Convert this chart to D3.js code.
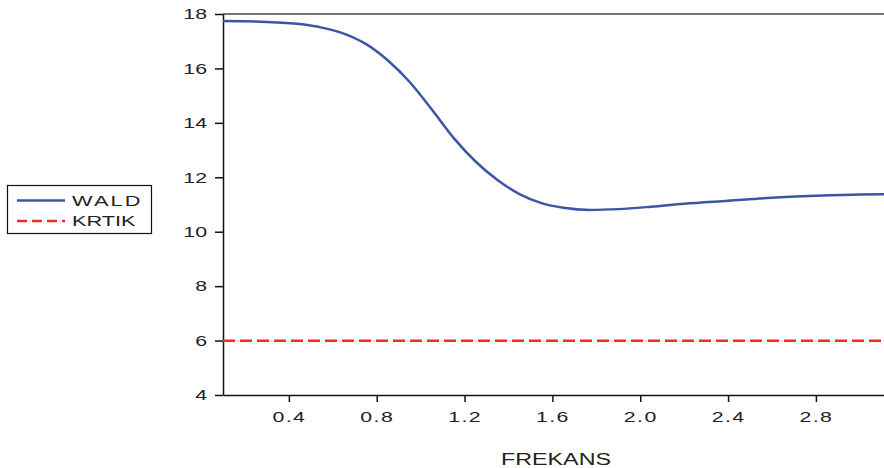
<!DOCTYPE html>
<html>
<head>
<meta charset="utf-8">
<script src="https://cdn.jsdelivr.net/npm/d3@7"></script>
<style>
  body { margin: 0; background: #fff; }
  svg { display: block; font-family: "Liberation Sans", Arial, sans-serif; }
  .axis text { font-size: 15px; fill: #222; }
  .axis path, .axis line { stroke: #111; stroke-width: 1.5; }
</style>
</head>
<body>
<div id="chart"></div>
<script>
    // values
    var freq = [0.10, 0.30, 0.45, 0.55, 0.65, 0.75, 0.85, 0.95, 1.05, 1.15, 1.25, 1.35,
                1.45, 1.55, 1.65, 1.77, 1.90, 2.05, 2.20, 2.40, 2.60, 2.80, 3.00, 3.11];
    var wald = [17.74, 17.71, 17.63, 17.50, 17.28, 16.90, 16.30, 15.50, 14.50, 13.45, 12.58, 11.90,
                11.38, 11.05, 10.88, 10.80, 10.83, 10.92, 11.03, 11.14, 11.25, 11.32, 11.37, 11.38];
    var krtik = 5.99;
    var xTicks = [0.4, 0.8, 1.2, 1.6, 2.0, 2.4, 2.8];
    var yTicks = [4, 6, 8, 10, 12, 14, 16, 18];

    var fullwidth = 884;
    var fullheight = 468;
    var margin = {top: 14, right: 0, bottom: 73, left: 223};

    var width = fullwidth - margin.left - margin.right;
    var height = fullheight - margin.top - margin.bottom;

    var sx = 1.42; // the text in the picture is stretched sideways

    var svg = d3.select("#chart")
                .append("svg")
                .attr("width", fullwidth)
                .attr("height", fullheight);

    var g = svg.append("g")
               .attr("transform", "translate(" + margin.left + "," + margin.top + ")");

    var xScale = d3.scaleLinear()
                   .domain([0.1, 3.11])
                   .range([0, width]);

    var yScale = d3.scaleLinear()
                   .domain([4, 18])
                   .range([height, 0]);

    var xAxis = d3.axisBottom(xScale)
                  .tickValues(xTicks)
                  .tickSizeInner(7)
                  .tickSizeOuter(0)
                  .tickPadding(9)
                  .tickFormat(d3.format(".1f"));

    var yAxis = d3.axisLeft(yScale)
                  .tickValues(yTicks)
                  .tickSizeInner(8)
                  .tickSizeOuter(0)
                  .tickFormat(d3.format("d"));

    // top frame line
    g.append("line")
     .attr("x1", 0).attr("x2", width)
     .attr("y1", 0).attr("y2", 0)
     .attr("stroke", "#444")
     .attr("stroke-width", 1.5);

    g.append("g")
     .attr("class", "x axis")
     .attr("transform", "translate(0," + height + ")")
     .call(xAxis)
     .selectAll("text")
     .style("letter-spacing", "1px")
     .attr("transform", "scale(" + sx + ",1)");

    g.append("g")
     .attr("class", "y axis")
     .call(yAxis)
     .selectAll("text")
     .attr("x", -16 / sx)
     .attr("transform", "scale(" + sx + ",1)");

    var dataset = freq.map(function(f, i) { return {f: f, v: wald[i]}; });

    var line = d3.line()
                 .x(function(d) { return xScale(d.f); })
                 .y(function(d) { return yScale(d.v); })
                 .curve(d3.curveMonotoneX);

    g.append("path")
     .datum(dataset)
     .attr("d", line)
     .attr("fill", "none")
     .attr("stroke", "#3c56a6")
     .attr("stroke-width", 2.5);

    g.append("line")
     .attr("x1", xScale(0.1)).attr("x2", xScale(3.11))
     .attr("y1", yScale(krtik)).attr("y2", yScale(krtik))
     .attr("stroke", "#ee2a2a")
     .attr("stroke-width", 2.5)
     .attr("stroke-dasharray", "12,5");

    // x axis title
    svg.append("text")
       .attr("transform", "translate(556,465) scale(1.37,1)")
       .attr("text-anchor", "middle")
       .style("font-size", "17px")
       .attr("fill", "#222")
       .text("FREKANS");

    // legend
    var legend = svg.append("g");
    legend.append("rect")
          .attr("x", 7.5).attr("y", 185.5)
          .attr("width", 144).attr("height", 48)
          .attr("fill", "#fff")
          .attr("stroke", "#111")
          .attr("stroke-width", 1.2);

    var items = [
        {name: "WALD", color: "#3c56a6", dash: null, spacing: "1.5px"},
        {name: "KRTIK", color: "#ee2a2a", dash: "10,5", spacing: "0px"}
    ];

    items.forEach(function(d, i) {
        var y = 200.5 + i * 20.5;
        legend.append("line")
              .attr("x1", 17).attr("x2", 65)
              .attr("y1", y).attr("y2", y)
              .attr("stroke", d.color)
              .attr("stroke-width", 2.5)
              .attr("stroke-dasharray", d.dash);
        legend.append("text")
              .attr("transform", "translate(72," + (y + 5) + ") scale(1.45,1)")
              .style("font-size", "15px")
              .style("letter-spacing", d.spacing)
              .attr("fill", "#222")
              .text(d.name);
    });
</script>
</body>
</html>
